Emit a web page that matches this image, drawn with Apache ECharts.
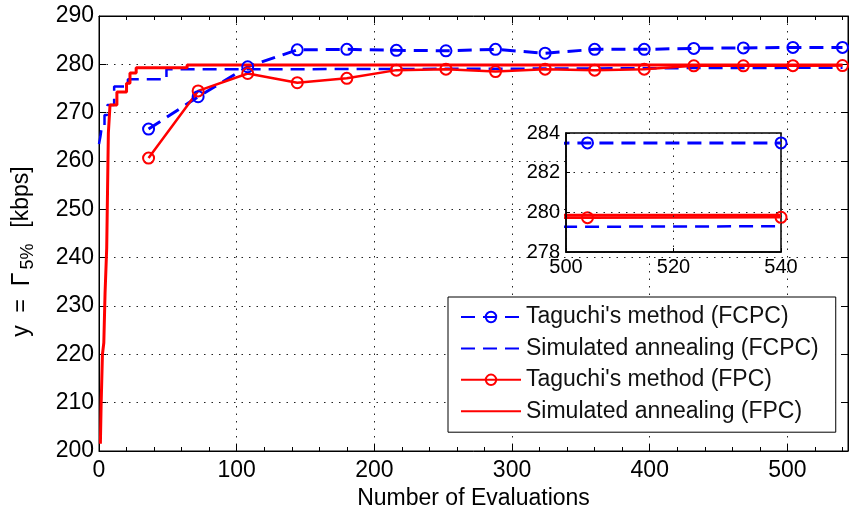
<!DOCTYPE html>
<html><head><meta charset="utf-8">
<script src="https://cdn.jsdelivr.net/npm/echarts@6/dist/echarts.min.js"></script>
<style>html,body{margin:0;padding:0;background:#fff}#c{width:862px;height:517px}</style>
</head><body><div id="c"></div>
<script>
// ---- data ----
const evals = [36, 72, 108, 144, 180, 216, 252, 288, 324, 360, 396, 432, 468, 504, 540];
const taguchiFCPC = [266.6, 273.3, 279.5, 283.0, 283.1, 282.9, 282.8, 283.1, 282.3, 283.1, 283.1, 283.3, 283.4, 283.5, 283.5];
const taguchiFPC = [260.6, 274.5, 278.1, 276.2, 277.1, 278.8, 279.0, 278.5, 279.0, 278.8, 279.0, 279.7, 279.7, 279.73, 279.75];
const saFCPCx = [0, 1, 2, 4, 6, 11, 21, 49, 150, 300, 400, 540];
const saFCPCy = [263.5, 265, 267, 269.5, 271.6, 275.4, 276.9, 279.0, 279.1, 279.2, 279.3, 279.3];
const saFPCx = [1, 1.5, 2.5, 3.5, 4.4, 5.6, 6.8, 8, 13, 20, 22.5, 27, 64, 540];
const saFPCy = [201.5, 209, 220, 222.4, 232.7, 242, 265.8, 271.6, 274.3, 276.1, 278.2, 279.3, 279.85, 279.85];
const seriesNames = ["Taguchi's method (FCPC)", "Simulated annealing (FCPC)", "Taguchi's method (FPC)", "Simulated annealing (FPC)"];
const xLabel = 'Number of Evaluations';

// ---- chart ----
const FF = '"Liberation Sans", Arial, sans-serif';
const BLUE = '#0000ff', RED = '#ff0000';
const CLEAR = 'rgba(0,0,0,0)';
const zip = (xs, ys) => xs.map((x, i) => [x, ys[i]]);

function makeSeries(xi, yi, z) {
  return [
    { name: seriesNames[0], type: 'line', xAxisIndex: xi, yAxisIndex: yi, z: z,
      data: zip(evals, taguchiFCPC), symbol: 'circle', symbolSize: 11,
      itemStyle: { color: CLEAR, borderColor: BLUE, borderWidth: 2 },
      lineStyle: { color: BLUE, width: 3, type: [14, 8] } },
    { name: seriesNames[1], type: 'line', xAxisIndex: xi, yAxisIndex: yi, z: z,
      data: zip(saFCPCx, saFCPCy), step: 'end', symbol: 'circle', showSymbol: false,
      itemStyle: { color: CLEAR, borderColor: CLEAR, borderWidth: 0 },
      lineStyle: { color: BLUE, width: 2.5, type: [14, 8] } },
    { name: seriesNames[2], type: 'line', xAxisIndex: xi, yAxisIndex: yi, z: z,
      data: zip(evals, taguchiFPC), symbol: 'circle', symbolSize: 11,
      itemStyle: { color: CLEAR, borderColor: RED, borderWidth: 2 },
      lineStyle: { color: RED, width: 2.5 } },
    { name: seriesNames[3], type: 'line', xAxisIndex: xi, yAxisIndex: yi, z: z,
      data: zip(saFPCx, saFPCy), step: 'end', symbol: 'circle', showSymbol: false,
      itemStyle: { color: CLEAR, borderColor: CLEAR, borderWidth: 0 },
      lineStyle: { color: RED, width: 3 } }
  ];
}

const dotted = { color: '#222', width: 1, type: [1.5, 6] };
const blackLine = { show: true, onZero: false, lineStyle: { color: '#000', width: 1 } };

const option = {
  animation: false,
  backgroundColor: '#fff',
  textStyle: { fontFamily: FF },
  grid: [
    { left: 99, top: 16, right: 14, bottom: 66, show: true, borderColor: '#000', borderWidth: 1, backgroundColor: '#fff' },
    { left: 566, top: 133, width: 215, height: 119, show: true, borderColor: '#000', borderWidth: 1.5, backgroundColor: '#fff', z: 10 }
  ],
  legend: {
    orient: 'vertical', left: 448, top: 297,
    data: seriesNames,
    backgroundColor: '#fff', borderColor: '#000', borderWidth: 1,
    padding: [8, 17, 9, 12],
    itemWidth: 60, itemHeight: 13, itemGap: 7.4,
    textStyle: { fontSize: 23, color: '#111', fontFamily: FF, lineHeight: 24 },
    z: 20
  },
  xAxis: [
    { type: 'value', gridIndex: 0, position: 'bottom', min: 0, max: 544, interval: 100,
      axisLine: blackLine,
      axisTick: { show: true, inside: true, length: 7, lineStyle: { color: '#000' } },
      axisLabel: { color: '#000', fontSize: 23, margin: 8, fontFamily: FF, showMaxLabel: false },
      splitLine: { show: true, lineStyle: dotted },
      name: xLabel, nameLocation: 'middle', nameGap: 35,
      nameTextStyle: { color: '#000', fontSize: 23, fontFamily: FF } },
    { type: 'value', gridIndex: 0, position: 'bottom', min: 0, max: 544, interval: 20,
      axisLine: { show: false }, axisTick: { show: true, inside: true, length: 4, lineStyle: { color: '#000' } },
      axisLabel: { show: false }, splitLine: { show: false } },
    { type: 'value', gridIndex: 0, position: 'top', min: 0, max: 544, interval: 100,
      axisLine: blackLine, axisTick: { show: true, inside: true, length: 7, lineStyle: { color: '#000' } },
      axisLabel: { show: false }, splitLine: { show: false } },
    { type: 'value', gridIndex: 0, position: 'top', min: 0, max: 544, interval: 20,
      axisLine: { show: false }, axisTick: { show: true, inside: true, length: 4, lineStyle: { color: '#000' } },
      axisLabel: { show: false }, splitLine: { show: false } },
    { type: 'value', gridIndex: 1, position: 'bottom', min: 500, max: 540, interval: 20, z: 12,
      axisLine: { show: true, onZero: false, lineStyle: { color: '#000', width: 1.5 } },
      axisTick: { show: true, inside: true, length: 4, lineStyle: { color: '#000' } },
      axisLabel: { color: '#000', fontSize: 20, margin: 5, fontFamily: FF },
      splitLine: { show: true, lineStyle: dotted } }
  ],
  yAxis: [
    { type: 'value', gridIndex: 0, position: 'left', min: 200, max: 290, interval: 10,
      axisLine: blackLine,
      axisTick: { show: true, inside: true, length: 7, lineStyle: { color: '#000' } },
      axisLabel: { color: '#000', fontSize: 23, margin: 5, fontFamily: FF },
      splitLine: { show: true, lineStyle: dotted },
      name: '{a|y  =  }{g|Γ}{s|5%}{a|  [kbps]}', nameLocation: 'middle', nameGap: 62, nameRotate: 90,
      nameTextStyle: { color: '#000', padding: [0, 36, 0, 0],
        rich: { a: { fontSize: 23, fontFamily: FF, color: '#000', lineHeight: 30, verticalAlign: 'middle' },
                g: { fontSize: 25, fontFamily: FF, color: '#000', lineHeight: 30, verticalAlign: 'middle' },
                s: { fontSize: 18, fontFamily: FF, color: '#000', lineHeight: 18, verticalAlign: 'bottom', padding: [0, 3, 0, 3] } } } },
    { type: 'value', gridIndex: 0, position: 'right', min: 200, max: 290, interval: 10,
      axisLine: blackLine, axisTick: { show: true, inside: true, length: 7, lineStyle: { color: '#000' } },
      axisLabel: { show: false }, splitLine: { show: false } },
    { type: 'value', gridIndex: 1, position: 'left', min: 278, max: 284, interval: 2, z: 12,
      axisLine: { show: true, onZero: false, lineStyle: { color: '#000', width: 1.5 } },
      axisTick: { show: true, inside: true, length: 4, lineStyle: { color: '#000' } },
      axisLabel: { color: '#000', fontSize: 20, margin: 6, fontFamily: FF },
      splitLine: { show: true, lineStyle: dotted } }
  ],
  series: makeSeries(0, 0, 2).concat(makeSeries(4, 2, 11).map(s => Object.assign(s, { clip: true })))
};

const chart = echarts.init(document.getElementById('c'), null, { renderer: 'canvas' });
chart.setOption(option);
</script>
</body></html>
